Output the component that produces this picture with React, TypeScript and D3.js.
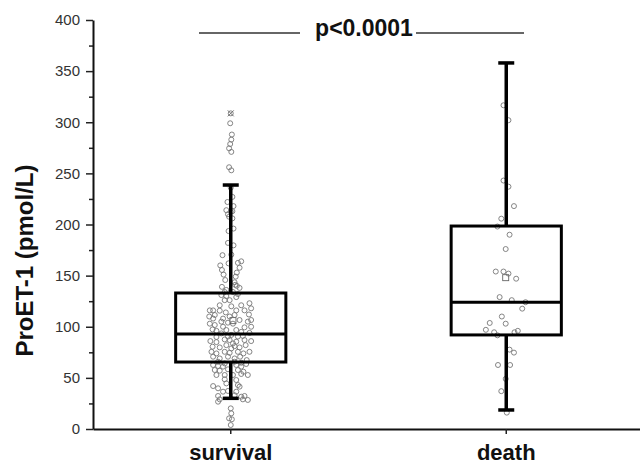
import React, { useEffect, useRef } from "react";
import * as d3 from "d3";

// groups and box statistics
const groups = ["survival", "death"];
const q1 = [65.5, 92];
const medians = [93, 124];
const q3 = [133, 198.5];
const whiskerLow = [30, 18.6];
const whiskerHigh = [238.6, 358];
const means = [106, 148];
const meanJitter = [0.04, -0.01];
const extremes = [308.7, null];

const yTicks = [0, 50, 100, 150, 200, 250, 300, 350, 400];
const yMinorTicks = [25, 75, 125, 175, 225, 275, 325, 375];

// [value, jitter as a fraction of half box width]
const survivalPoints: [number, number][] = [
  [308.7, 0], [299, -0.01], [288, 0.02], [283, 0.01], [278.7, -0.01], [274.5, -0.03],
  [271, 0.01], [256, -0.03], [253, 0.01],
  [236, 0], [227, 0.03], [222, -0.06], [218, 0.05], [214, -0.08], [213, 0.03],
  [212.5, 0], [210, -0.05], [207.6, -0.03], [206, 0.03], [196, 0.05], [193.6, -0.04],
  [182, -0.05], [179.6, 0.05], [170, -0.15], [170.5, 0.01], [162, -0.04], [164, 0.19],
  [162.5, 0.13], [160, -0.19], [157.7, 0.16], [155.5, -0.16], [153, 0.11], [151, -0.13],
  [149, 0.09], [145.7, -0.1], [143.5, 0.07], [139, -0.16], [140, 0.11], [141, 0.08],
  [136, -0.08], [138, 0.16], [134, -0.11],
  [134, 0.04], [131, -0.17], [130, -0.08], [132, 0.13], [129, 0.1], [126, -0.02],
  [126, -0.11], [121, 0.19], [121, -0.2], [120, 0.01], [123, 0.34], [116, -0.38],
  [116, -0.32], [115.7, -0.2], [114, -0.09], [116, 0.1], [111.5, 0.07], [116, 0.25],
  [118, 0.37], [112, 0.33], [111.5, -0.29], [110, -0.39], [108, -0.32], [108, -0.14],
  [110, -0.02], [106.6, 0.16], [103, -0.38], [101.7, -0.29], [105, -0.17], [100, -0.14],
  [103, 0.04], [104, -0.05], [105, 0.31], [106.6, 0.37], [99.4, 0.25], [100, 0.37],
  [97.4, -0.33], [96, -0.26], [96.8, -0.08], [96.8, 0.1], [95, 0.19], [93.5, -0.17],
  [94, 0.34], [92, 0.01], [90.4, -0.05], [90.4, 0.13], [90, -0.26], [91, 0.22],
  [86, -0.37], [85, -0.26], [87.6, -0.11], [87, -0.02], [85.4, 0.1], [87, 0.25],
  [86, 0.37], [83.7, 0.04], [80.5, -0.33], [79.8, -0.2], [82, -0.08], [78.8, 0.01],
  [81, 0.07], [79.8, 0.16], [82, 0.27], [75.5, -0.35], [73.9, -0.26], [75.5, -0.11],
  [74.5, -0.02], [75.5, 0.13], [73.9, 0.23], [75.5, 0.34], [70.7, -0.32], [69, -0.2],
  [70.7, -0.05], [69, 0.07], [70.7, 0.17], [67.4, 0.29], [65.8, -0.23], [64.1, -0.11],
  [65.8, 0.07], [64.8, 0.19],
  [62.6, -0.32], [61.6, -0.23], [61, -0.14], [62.6, 0.1], [61, 0.19], [63.6, 0.28],
  [57.7, -0.29], [57, -0.2], [58.4, -0.05], [57.7, 0.13], [56, 0.23], [52.8, -0.26],
  [52.8, -0.11], [52.8, 0.04], [53.8, 0.19], [52.8, 0.31], [48.6, -0.11], [47.9, 0.1],
  [44.6, -0.08], [43, 0.13], [42, -0.32], [39.8, -0.23], [36.5, -0.14], [37.2, -0.05],
  [41.4, 0.16], [36.5, 0.1], [32.3, -0.23], [33, 0.07], [31.6, 0.19], [32.3, 0.25],
  [29, -0.2], [29, 0.22], [28.4, 0.31], [26.7, -0.23], [20.2, 0], [15.3, 0.01],
  [10.4, -0.03], [9.5, 0.02], [3.9, 0],
];

const deathPoints: [number, number][] = [
  [316.6, -0.05], [302, 0.04], [243, -0.05], [237, 0.04], [218, 0.14], [205.7, -0.09],
  [198, -0.16], [190, 0.06], [176, -0.01], [154, -0.19], [154, -0.05], [152, 0.04],
  [147, 0.18], [129, -0.12], [126, 0.1], [124, 0.35], [117.7, 0.29], [110, -0.08],
  [103.7, -0.3], [103, -0.01], [97, -0.37], [94.6, -0.22], [94.6, 0.15], [96, 0.21],
  [91.6, -0.16], [77.6, 0.06], [74.7, 0.14], [62.6, -0.15], [62.6, 0.07], [49, -0.01],
  [37, -0.09], [16, 0.01],
];

const pointSets = [survivalPoints, deathPoints];

export default function App() {
  const svgRef = useRef<SVGSVGElement>(null);
  const width = 640;
  const height = 465;

  useEffect(() => {
    const svg = d3.select(svgRef.current);
    svg.selectAll("*").remove();
    const font = "'Liberation Sans', Arial, sans-serif";

    const x = d3.scaleBand().domain(groups).range([93, 644]);
    const y = d3.scaleLinear().domain([0, 400]).range([429, 20]);
    const boxW = x.bandwidth() * 0.4;
    const capW = 16;
    const jitter = d3.scaleLinear().domain([-1, 1]).range([-boxW / 2, boxW / 2]);
    const cx = (i: number) => (x(groups[i]) as number) + x.bandwidth() / 2;

    // minor y ticks
    svg
      .append("g")
      .attr("transform", "translate(93,0)")
      .call(d3.axisLeft(y).tickValues(yMinorTicks).tickSize(4).tickFormat(() => ""))
      .call((g) => g.select(".domain").remove())
      .selectAll("line")
      .attr("stroke", "#222")
      .attr("stroke-width", 1.5);

    // y axis
    const yAxis = svg
      .append("g")
      .attr("transform", "translate(93,0)")
      .call(d3.axisLeft(y).tickValues(yTicks).tickSize(7).tickSizeOuter(0).tickPadding(6));
    yAxis.select(".domain").attr("stroke", "#111").attr("stroke-width", 2);
    yAxis.selectAll("line").attr("stroke", "#222").attr("stroke-width", 1.5);
    yAxis
      .selectAll("text")
      .attr("font-family", font)
      .attr("font-size", 15)
      .attr("fill", "#333");

    // x axis
    const xAxis = svg
      .append("g")
      .attr("transform", "translate(0,429)")
      .call(d3.axisBottom(x).tickSize(5).tickSizeOuter(0).tickPadding(10));
    xAxis.select(".domain").attr("stroke", "#111").attr("stroke-width", 2);
    xAxis.selectAll("line").attr("stroke", "#222").attr("stroke-width", 1.5);
    xAxis
      .selectAll("text")
      .attr("font-family", font)
      .attr("font-size", 22)
      .attr("font-weight", "bold")
      .attr("fill", "#111");

    // y label
    svg
      .append("text")
      .attr("transform", `translate(33,${(163 + 358) / 2}) rotate(-90)`)
      .attr("text-anchor", "middle")
      .attr("font-family", font)
      .attr("font-size", 24)
      .attr("font-weight", "bold")
      .attr("fill", "#111")
      .text("ProET-1 (pmol/L)");

    // significance bar
    svg
      .append("line")
      .attr("x1", 199).attr("x2", 300).attr("y1", 33).attr("y2", 33)
      .attr("stroke", "#333").attr("stroke-width", 1.5);
    svg
      .append("line")
      .attr("x1", 416).attr("x2", 524).attr("y1", 33).attr("y2", 33)
      .attr("stroke", "#333").attr("stroke-width", 1.5);
    svg
      .append("text")
      .attr("x", 364)
      .attr("y", 36)
      .attr("text-anchor", "middle")
      .attr("font-family", font)
      .attr("font-size", 23)
      .attr("font-weight", "bold")
      .attr("fill", "#111")
      .text("p<0.0001");

    groups.forEach((_, i) => {
      const c = cx(i);
      const g = svg.append("g");

      // points
      g.selectAll("circle")
        .data(pointSets[i])
        .enter()
        .append("circle")
        .attr("cx", (d) => c + jitter(d[1]))
        .attr("cy", (d) => y(d[0]))
        .attr("r", 2.5)
        .attr("fill", "none")
        .attr("stroke", "#777")
        .attr("stroke-width", 0.9);

      // whiskers
      g.append("line")
        .attr("x1", c).attr("x2", c)
        .attr("y1", y(q3[i])).attr("y2", y(whiskerHigh[i]))
        .attr("stroke", "#000").attr("stroke-width", 3.5);
      g.append("line")
        .attr("x1", c).attr("x2", c)
        .attr("y1", y(q1[i])).attr("y2", y(whiskerLow[i]))
        .attr("stroke", "#000").attr("stroke-width", 3.5);
      [whiskerHigh[i], whiskerLow[i]].forEach((v) => {
        g.append("line")
          .attr("x1", c - capW / 2).attr("x2", c + capW / 2)
          .attr("y1", y(v)).attr("y2", y(v))
          .attr("stroke", "#000").attr("stroke-width", 3.5);
      });

      // box
      g.append("rect")
        .attr("x", c - boxW / 2)
        .attr("y", y(q3[i]))
        .attr("width", boxW)
        .attr("height", y(q1[i]) - y(q3[i]))
        .attr("fill", "none")
        .attr("stroke", "#000")
        .attr("stroke-width", 3);
      g.append("line")
        .attr("x1", c - boxW / 2).attr("x2", c + boxW / 2)
        .attr("y1", y(medians[i])).attr("y2", y(medians[i]))
        .attr("stroke", "#000").attr("stroke-width", 3);

      // mean
      g.append("rect")
        .attr("x", c + jitter(meanJitter[i]) - 3)
        .attr("y", y(means[i]) - 3)
        .attr("width", 6)
        .attr("height", 6)
        .attr("fill", "none")
        .attr("stroke", "#666")
        .attr("stroke-width", 0.9);

      // extreme marker
      const ex = extremes[i];
      if (ex !== null) {
        const ey = y(ex);
        g.append("path")
          .attr("d", `M${c - 3},${ey - 3}L${c + 3},${ey + 3}M${c - 3},${ey + 3}L${c + 3},${ey - 3}`)
          .attr("stroke", "#666")
          .attr("stroke-width", 0.9);
      }
    });
  }, []);

  return (
    <svg
      ref={svgRef}
      width={width}
      height={height}
      style={{ position: "absolute", left: 0, top: 0, background: "#fff" }}
    ></svg>
  );
}
